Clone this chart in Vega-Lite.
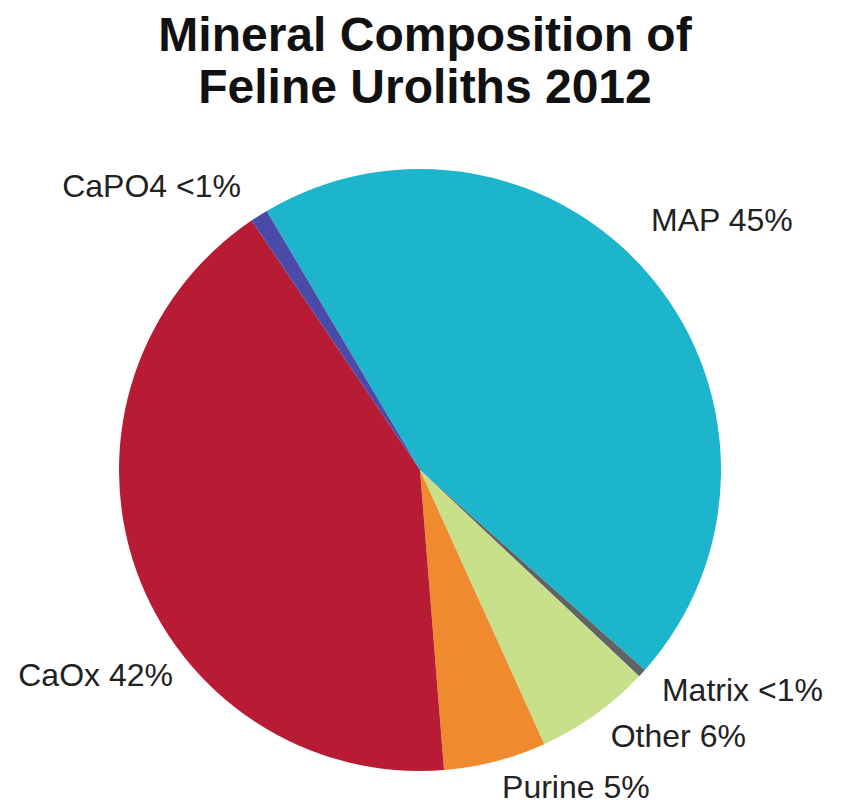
{
  "$schema": "https://vega.github.io/schema/vega-lite/v6.json",
  "autosize": {"type": "none"},
  "width": 602,
  "height": 602,
  "padding": {"left": 119, "top": 169, "right": 124, "bottom": 36},
  "background": "white",
  "title": {
    "text": ["Mineral Composition of", "Feline Uroliths 2012"],
    "font": "Liberation Sans",
    "fontSize": 48,
    "fontWeight": "bold",
    "color": "#111111",
    "anchor": "middle",
    "lineHeight": 52,
    "dx": 5,
    "dy": -7
  },
  "data": {
    "values": [
      {"idx": 1, "mineral": "MAP", "label": "MAP 45%", "value": 45.05},
      {"idx": 2, "mineral": "Matrix", "label": "Matrix <1%", "value": 0.45},
      {"idx": 3, "mineral": "Other", "label": "Other 6%", "value": 6.2},
      {"idx": 4, "mineral": "Purine", "label": "Purine 5%", "value": 5.5},
      {"idx": 5, "mineral": "CaOx", "label": "CaOx 42%", "value": 41.8},
      {"idx": 6, "mineral": "CaPO4", "label": "CaPO4 <1%", "value": 0.95}
    ]
  },
  "encoding": {
    "theta": {"field": "value", "type": "quantitative", "stack": true, "scale": {"range": [-0.534, 5.749]}},
    "order": {"field": "idx", "type": "quantitative"}
  },
  "layer": [
    {
      "mark": {"type": "arc", "outerRadius": 301},
      "encoding": {
        "color": {
          "field": "mineral",
          "type": "nominal",
          "legend": null,
          "scale": {
            "domain": ["MAP", "Matrix", "Other", "Purine", "CaOx", "CaPO4"],
            "range": ["#1cb5cb", "#5f6366", "#c8e08a", "#f08a2e", "#b81c34", "#4a4aa8"]
          }
        }
      }
    },
    {
      "mark": {"type": "text", "font": "Liberation Sans", "fontSize": 32, "color": "#222222", "align": "center", "baseline": "middle", "radius": 391},
      "encoding": {
        "text": {"condition": {"test": "datum.mineral === 'MAP'", "field": "label"}, "value": ""}
      }
    },
    {
      "mark": {"type": "text", "font": "Liberation Sans", "fontSize": 32, "color": "#222222", "align": "left", "baseline": "middle", "radius": 328},
      "encoding": {
        "text": {"condition": {"test": "datum.mineral === 'Matrix' || datum.mineral === 'Other' || datum.mineral === 'Purine'", "field": "label"}, "value": ""}
      }
    },
    {
      "mark": {"type": "text", "font": "Liberation Sans", "fontSize": 32, "color": "#222222", "align": "right", "baseline": "middle", "radius": 335},
      "encoding": {
        "text": {"condition": {"test": "datum.mineral === 'CaPO4'", "field": "label"}, "value": ""}
      }
    },
    {
      "mark": {"type": "text", "font": "Liberation Sans", "fontSize": 32, "color": "#222222", "align": "right", "baseline": "middle", "radius": 320, "dx": 55, "dy": 100},
      "encoding": {
        "text": {"condition": {"test": "datum.mineral === 'CaOx'", "field": "label"}, "value": ""}
      }
    }
  ]
}
